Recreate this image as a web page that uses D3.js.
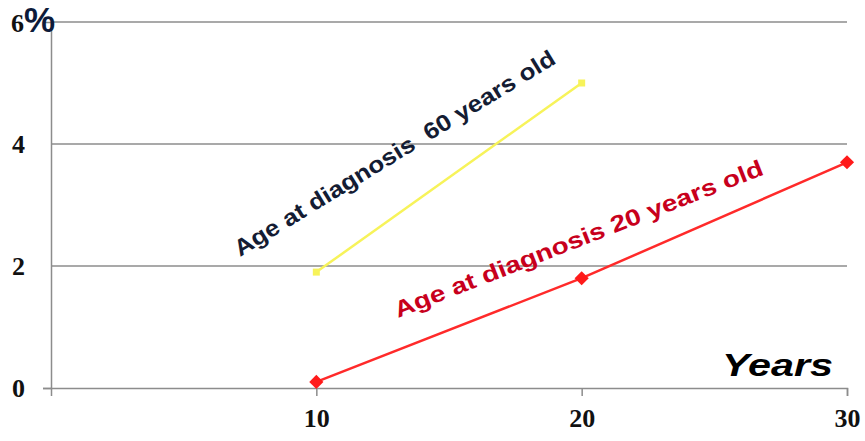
<!DOCTYPE html>
<html><head><meta charset="utf-8">
<script src="https://cdn.jsdelivr.net/npm/d3@7"></script>
<style>body{margin:0;background:#fff}svg{display:block}</style>
</head><body><svg id="c" width="865" height="441"></svg>
<script>
const years = [10, 20, 30];
const age60 = [1.9, 5.0, null];
const age20 = [0.1, 1.8, 3.7];
const yTicks = [0, 2, 4, 6];
const xTicks = [10, 20, 30];
const label60 = "Age at diagnosis  60 years old";
const label20 = "Age at diagnosis 20 years old";

const svg = d3.select("#c");
const x = d3.scaleLinear().domain([0, 30]).range([51, 847]);
const y = d3.scaleLinear().domain([0, 6]).range([388, 22]);

// gridlines
svg.append("g").selectAll("line").data(yTicks.filter(d => d > 0)).join("line")
  .attr("x1", x(0)).attr("x2", x(30)).attr("y1", d => y(d)).attr("y2", d => y(d))
  .attr("stroke", "#8c8c8c").attr("stroke-width", 1.5);

// y axis
const ya = svg.append("g").attr("transform", `translate(${x(0)},0)`)
  .call(d3.axisLeft(y).tickValues(yTicks).tickSize(8).tickFormat(d => d === 6 ? "" : d));
ya.select(".domain").attr("stroke", "#8c8c8c").attr("stroke-width", 1.5);
ya.selectAll(".tick line").attr("stroke", "#8c8c8c").attr("stroke-width", 1.5)
  .attr("x2", d => d === 0 ? -8 : 0);
ya.selectAll(".tick text").attr("x", -26).attr("font-family", "Liberation Serif")
  .attr("font-weight", "bold").attr("font-size", 26).attr("fill", "#111");

// 6% label
const t6 = svg.append("text").attr("x", 11).attr("y", y(6) + 10)
  .attr("font-family", "Liberation Serif").attr("font-weight", "bold").attr("font-size", 26).attr("fill", "#111");
t6.append("tspan").text("6");
t6.append("tspan").text("%").attr("font-family", "Liberation Sans").attr("font-size", 35).attr("fill", "#0d1b3a");

// x axis
const xa = svg.append("g").attr("transform", `translate(0,${y(0)})`)
  .call(d3.axisBottom(x).tickValues(xTicks).tickSize(8).tickPadding(13).tickFormat(d3.format("d")));
xa.select(".domain").attr("stroke", "#8c8c8c").attr("stroke-width", 1.5);
xa.selectAll(".tick line").attr("stroke", "#8c8c8c").attr("stroke-width", 1.5);
xa.selectAll(".tick text").attr("font-family", "Liberation Serif")
  .attr("font-weight", "bold").attr("font-size", 26).attr("fill", "#111");

// lines
const line = d3.line().defined(d => d[1] != null).x(d => x(d[0])).y(d => y(d[1]));
const d60 = years.map((v, i) => [v, age60[i]]).filter(d => d[1] != null);
const d20 = years.map((v, i) => [v, age20[i]]);

svg.append("path").datum(d60).attr("d", line).attr("fill", "none")
  .attr("stroke", "#f7f35a").attr("stroke-width", 2.5);
svg.append("g").selectAll("rect").data(d60).join("rect")
  .attr("x", d => x(d[0]) - 3.5).attr("y", d => y(d[1]) - 3.5).attr("width", 7).attr("height", 7)
  .attr("fill", "#f7f35a");

svg.append("path").datum(d20).attr("d", line).attr("fill", "none")
  .attr("stroke", "#ff2a2a").attr("stroke-width", 2.5);
svg.append("g").selectAll("path").data(d20).join("path")
  .attr("d", d3.symbol(d3.symbolSquare, 100))
  .attr("transform", d => `translate(${x(d[0])},${y(d[1])}) rotate(45)`)
  .attr("fill", "#ff1a1a");

// annotations
svg.append("text").attr("transform", "translate(240,257) rotate(-31.5)")
  .attr("font-family", "Liberation Sans").attr("font-weight", "bold").attr("font-size", 23)
  .attr("fill", "#141c33").style("white-space", "pre")
  .attr("textLength", 372).attr("lengthAdjust", "spacingAndGlyphs")
  .text(label60);
svg.append("text").attr("transform", "translate(398,318) rotate(-21.4)")
  .attr("font-family", "Liberation Sans").attr("font-weight", "bold").attr("font-size", 23)
  .attr("fill", "#c8001c")
  .attr("textLength", 394).attr("lengthAdjust", "spacingAndGlyphs")
  .text(label20);

svg.append("text").attr("x", 722).attr("y", 376)
  .attr("font-family", "Liberation Sans").attr("font-weight", "bold").attr("font-style", "italic")
  .attr("font-size", 32).attr("fill", "#000")
  .attr("textLength", 111).attr("lengthAdjust", "spacingAndGlyphs").text("Years");
</script></body></html>
